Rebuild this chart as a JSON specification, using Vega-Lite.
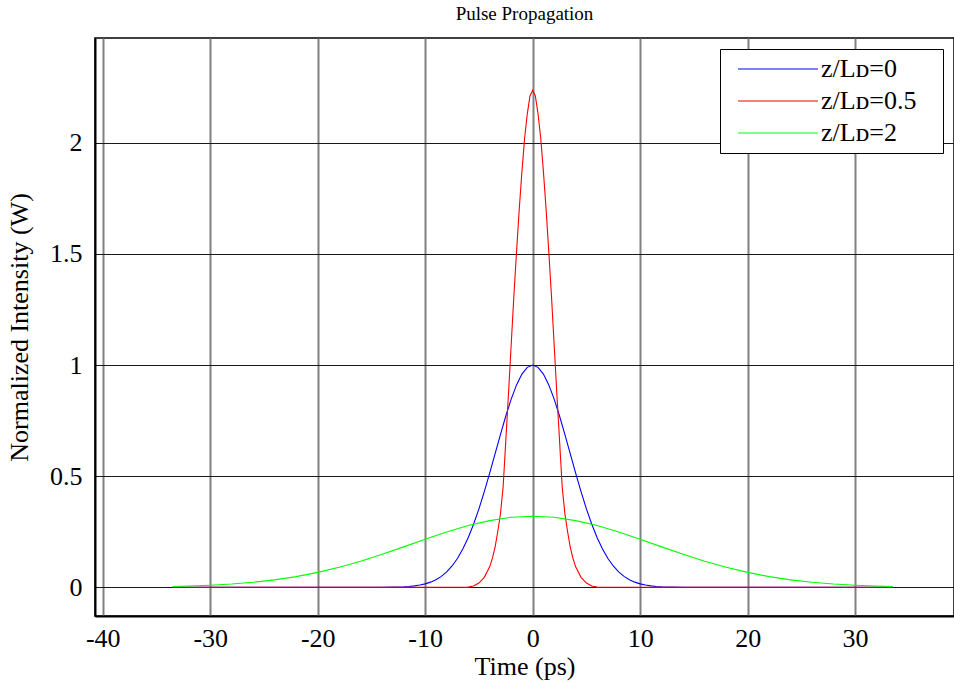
{
  "$schema": "https://vega.github.io/schema/vega-lite/v6.json",
  "width": 859,
  "height": 578,
  "autosize": "none",
  "padding": {"left": 95, "top": 38, "right": 0, "bottom": 68},
  "background": "white",
  "title": {"text": "Pulse Propagation", "font": "Liberation Serif", "fontSize": 19, "fontWeight": "normal", "color": "black", "offset": 14},
  "data": {"values": [
    {"t": -33.5, "I": 0, "s": "z/Lᴅ=0"},
    {"t": -14, "I": 0.0003, "s": "z/Lᴅ=0"},
    {"t": -13, "I": 0.0009, "s": "z/Lᴅ=0"},
    {"t": -12, "I": 0.0025, "s": "z/Lᴅ=0"},
    {"t": -11.5, "I": 0.004, "s": "z/Lᴅ=0"},
    {"t": -11, "I": 0.0065, "s": "z/Lᴅ=0"},
    {"t": -10.5, "I": 0.0101, "s": "z/Lᴅ=0"},
    {"t": -10, "I": 0.0155, "s": "z/Lᴅ=0"},
    {"t": -9.5, "I": 0.0233, "s": "z/Lᴅ=0"},
    {"t": -9, "I": 0.0342, "s": "z/Lᴅ=0"},
    {"t": -8.5, "I": 0.0493, "s": "z/Lᴅ=0"},
    {"t": -8, "I": 0.0695, "s": "z/Lᴅ=0"},
    {"t": -7.5, "I": 0.096, "s": "z/Lᴅ=0"},
    {"t": -7, "I": 0.1298, "s": "z/Lᴅ=0"},
    {"t": -6.5, "I": 0.172, "s": "z/Lᴅ=0"},
    {"t": -6, "I": 0.2231, "s": "z/Lᴅ=0"},
    {"t": -5.5, "I": 0.2835, "s": "z/Lᴅ=0"},
    {"t": -5, "I": 0.3529, "s": "z/Lᴅ=0"},
    {"t": -4.5, "I": 0.4301, "s": "z/Lᴅ=0"},
    {"t": -4, "I": 0.5134, "s": "z/Lᴅ=0"},
    {"t": -3.5, "I": 0.6003, "s": "z/Lᴅ=0"},
    {"t": -3, "I": 0.6873, "s": "z/Lᴅ=0"},
    {"t": -2.5, "I": 0.7707, "s": "z/Lᴅ=0"},
    {"t": -2, "I": 0.8465, "s": "z/Lᴅ=0"},
    {"t": -1.5, "I": 0.9105, "s": "z/Lᴅ=0"},
    {"t": -1, "I": 0.9592, "s": "z/Lᴅ=0"},
    {"t": -0.5, "I": 0.9896, "s": "z/Lᴅ=0"},
    {"t": 0, "I": 1, "s": "z/Lᴅ=0"},
    {"t": 0.5, "I": 0.9896, "s": "z/Lᴅ=0"},
    {"t": 1, "I": 0.9592, "s": "z/Lᴅ=0"},
    {"t": 1.5, "I": 0.9105, "s": "z/Lᴅ=0"},
    {"t": 2, "I": 0.8465, "s": "z/Lᴅ=0"},
    {"t": 2.5, "I": 0.7707, "s": "z/Lᴅ=0"},
    {"t": 3, "I": 0.6873, "s": "z/Lᴅ=0"},
    {"t": 3.5, "I": 0.6003, "s": "z/Lᴅ=0"},
    {"t": 4, "I": 0.5134, "s": "z/Lᴅ=0"},
    {"t": 4.5, "I": 0.4301, "s": "z/Lᴅ=0"},
    {"t": 5, "I": 0.3529, "s": "z/Lᴅ=0"},
    {"t": 5.5, "I": 0.2835, "s": "z/Lᴅ=0"},
    {"t": 6, "I": 0.2231, "s": "z/Lᴅ=0"},
    {"t": 6.5, "I": 0.172, "s": "z/Lᴅ=0"},
    {"t": 7, "I": 0.1298, "s": "z/Lᴅ=0"},
    {"t": 7.5, "I": 0.096, "s": "z/Lᴅ=0"},
    {"t": 8, "I": 0.0695, "s": "z/Lᴅ=0"},
    {"t": 8.5, "I": 0.0493, "s": "z/Lᴅ=0"},
    {"t": 9, "I": 0.0342, "s": "z/Lᴅ=0"},
    {"t": 9.5, "I": 0.0233, "s": "z/Lᴅ=0"},
    {"t": 10, "I": 0.0155, "s": "z/Lᴅ=0"},
    {"t": 10.5, "I": 0.0101, "s": "z/Lᴅ=0"},
    {"t": 11, "I": 0.0065, "s": "z/Lᴅ=0"},
    {"t": 11.5, "I": 0.004, "s": "z/Lᴅ=0"},
    {"t": 12, "I": 0.0025, "s": "z/Lᴅ=0"},
    {"t": 13, "I": 0.0009, "s": "z/Lᴅ=0"},
    {"t": 14, "I": 0.0003, "s": "z/Lᴅ=0"},
    {"t": 33.5, "I": 0, "s": "z/Lᴅ=0"},

    {"t": -33.5, "I": 0, "s": "z/Lᴅ=0.5"},
    {"t": -6.5, "I": 0, "s": "z/Lᴅ=0.5"},
    {"t": -6, "I": 0.001, "s": "z/Lᴅ=0.5"},
    {"t": -5.5, "I": 0.006, "s": "z/Lᴅ=0.5"},
    {"t": -5, "I": 0.019, "s": "z/Lᴅ=0.5"},
    {"t": -4.5, "I": 0.045, "s": "z/Lᴅ=0.5"},
    {"t": -4, "I": 0.092, "s": "z/Lᴅ=0.5"},
    {"t": -3.75, "I": 0.13, "s": "z/Lᴅ=0.5"},
    {"t": -3.5, "I": 0.18, "s": "z/Lᴅ=0.5"},
    {"t": -3.25, "I": 0.25, "s": "z/Lᴅ=0.5"},
    {"t": -3, "I": 0.33, "s": "z/Lᴅ=0.5"},
    {"t": -2.75, "I": 0.45, "s": "z/Lᴅ=0.5"},
    {"t": -2.5, "I": 0.66, "s": "z/Lᴅ=0.5"},
    {"t": -2.25, "I": 0.87, "s": "z/Lᴅ=0.5"},
    {"t": -2, "I": 1.09, "s": "z/Lᴅ=0.5"},
    {"t": -1.75, "I": 1.31, "s": "z/Lᴅ=0.5"},
    {"t": -1.5, "I": 1.51, "s": "z/Lᴅ=0.5"},
    {"t": -1.25, "I": 1.7, "s": "z/Lᴅ=0.5"},
    {"t": -1, "I": 1.87, "s": "z/Lᴅ=0.5"},
    {"t": -0.75, "I": 2.02, "s": "z/Lᴅ=0.5"},
    {"t": -0.5, "I": 2.13, "s": "z/Lᴅ=0.5"},
    {"t": -0.25, "I": 2.21, "s": "z/Lᴅ=0.5"},
    {"t": 0, "I": 2.236, "s": "z/Lᴅ=0.5"},
    {"t": 0.25, "I": 2.21, "s": "z/Lᴅ=0.5"},
    {"t": 0.5, "I": 2.13, "s": "z/Lᴅ=0.5"},
    {"t": 0.75, "I": 2.02, "s": "z/Lᴅ=0.5"},
    {"t": 1, "I": 1.87, "s": "z/Lᴅ=0.5"},
    {"t": 1.25, "I": 1.7, "s": "z/Lᴅ=0.5"},
    {"t": 1.5, "I": 1.51, "s": "z/Lᴅ=0.5"},
    {"t": 1.75, "I": 1.31, "s": "z/Lᴅ=0.5"},
    {"t": 2, "I": 1.09, "s": "z/Lᴅ=0.5"},
    {"t": 2.25, "I": 0.87, "s": "z/Lᴅ=0.5"},
    {"t": 2.5, "I": 0.66, "s": "z/Lᴅ=0.5"},
    {"t": 2.75, "I": 0.45, "s": "z/Lᴅ=0.5"},
    {"t": 3, "I": 0.33, "s": "z/Lᴅ=0.5"},
    {"t": 3.25, "I": 0.25, "s": "z/Lᴅ=0.5"},
    {"t": 3.5, "I": 0.18, "s": "z/Lᴅ=0.5"},
    {"t": 3.75, "I": 0.13, "s": "z/Lᴅ=0.5"},
    {"t": 4, "I": 0.092, "s": "z/Lᴅ=0.5"},
    {"t": 4.5, "I": 0.045, "s": "z/Lᴅ=0.5"},
    {"t": 5, "I": 0.019, "s": "z/Lᴅ=0.5"},
    {"t": 5.5, "I": 0.006, "s": "z/Lᴅ=0.5"},
    {"t": 6, "I": 0.001, "s": "z/Lᴅ=0.5"},
    {"t": 6.5, "I": 0, "s": "z/Lᴅ=0.5"},
    {"t": 33.5, "I": 0, "s": "z/Lᴅ=0.5"},

    {"t": -33.5, "I": 0.004, "s": "z/Lᴅ=2"},
    {"t": -32, "I": 0.006, "s": "z/Lᴅ=2"},
    {"t": -30, "I": 0.0095, "s": "z/Lᴅ=2"},
    {"t": -28, "I": 0.015, "s": "z/Lᴅ=2"},
    {"t": -26, "I": 0.0228, "s": "z/Lᴅ=2"},
    {"t": -24, "I": 0.0337, "s": "z/Lᴅ=2"},
    {"t": -22, "I": 0.0483, "s": "z/Lᴅ=2"},
    {"t": -20, "I": 0.0671, "s": "z/Lᴅ=2"},
    {"t": -18, "I": 0.0903, "s": "z/Lᴅ=2"},
    {"t": -16, "I": 0.1177, "s": "z/Lᴅ=2"},
    {"t": -14, "I": 0.149, "s": "z/Lᴅ=2"},
    {"t": -12, "I": 0.182, "s": "z/Lᴅ=2"},
    {"t": -10, "I": 0.2166, "s": "z/Lᴅ=2"},
    {"t": -8, "I": 0.249, "s": "z/Lᴅ=2"},
    {"t": -6, "I": 0.278, "s": "z/Lᴅ=2"},
    {"t": -4, "I": 0.3, "s": "z/Lᴅ=2"},
    {"t": -2, "I": 0.315, "s": "z/Lᴅ=2"},
    {"t": 0, "I": 0.32, "s": "z/Lᴅ=2"},
    {"t": 2, "I": 0.315, "s": "z/Lᴅ=2"},
    {"t": 4, "I": 0.3, "s": "z/Lᴅ=2"},
    {"t": 6, "I": 0.278, "s": "z/Lᴅ=2"},
    {"t": 8, "I": 0.249, "s": "z/Lᴅ=2"},
    {"t": 10, "I": 0.2166, "s": "z/Lᴅ=2"},
    {"t": 12, "I": 0.182, "s": "z/Lᴅ=2"},
    {"t": 14, "I": 0.149, "s": "z/Lᴅ=2"},
    {"t": 16, "I": 0.1177, "s": "z/Lᴅ=2"},
    {"t": 18, "I": 0.0903, "s": "z/Lᴅ=2"},
    {"t": 20, "I": 0.0671, "s": "z/Lᴅ=2"},
    {"t": 22, "I": 0.0483, "s": "z/Lᴅ=2"},
    {"t": 24, "I": 0.0337, "s": "z/Lᴅ=2"},
    {"t": 26, "I": 0.0228, "s": "z/Lᴅ=2"},
    {"t": 28, "I": 0.015, "s": "z/Lᴅ=2"},
    {"t": 30, "I": 0.0095, "s": "z/Lᴅ=2"},
    {"t": 32, "I": 0.006, "s": "z/Lᴅ=2"},
    {"t": 33.5, "I": 0.004, "s": "z/Lᴅ=2"}
  ]},
  "mark": {"type": "line", "strokeWidth": 1.1, "interpolate": "linear", "clip": true},
  "encoding": {
    "x": {
      "field": "t", "type": "quantitative",
      "scale": {"domain": [-40.72, 39.2], "nice": false, "zero": false},
      "axis": {
        "title": "Time (ps)",
        "values": [-40, -30, -20, -10, 0, 10, 20, 30],
        "labelExpr": "'' + datum.value",
        "grid": true, "gridColor": "#808080", "gridWidth": 2, "gridOpacity": 1,
        "ticks": false,
        "domainColor": "black", "domainWidth": 2,
        "labelPadding": 9, "titlePadding": 2
      }
    },
    "y": {
      "field": "I", "type": "quantitative",
      "scale": {"domain": [-0.129, 2.471], "nice": false, "zero": false},
      "axis": {
        "title": "Normalized Intensity (W)",
        "values": [0, 0.5, 1, 1.5, 2],
        "labelExpr": "'' + datum.value",
        "grid": true, "gridColor": "#1a1a1a", "gridWidth": 1, "gridOpacity": 1,
        "ticks": false,
        "domainColor": "black", "domainWidth": 2,
        "labelPadding": 13, "titlePadding": 17
      }
    },
    "color": {
      "field": "s", "type": "nominal",
      "scale": {"domain": ["z/Lᴅ=0", "z/Lᴅ=0.5", "z/Lᴅ=2"], "range": ["#0000ff", "#ff0000", "#00ff00"]},
      "legend": {
        "title": null,
        "orient": "top-right",
        "offset": 11,
        "padding": 7,
        "strokeColor": "black",
        "fillColor": "white",
        "symbolType": "M-4,0H4",
        "symbolSize": 400,
        "symbolStrokeWidth": 1.2,
        "symbolOffset": 38,
        "labelOffset": 30,
        "labelFont": "Liberation Serif",
        "labelFontSize": 26,
        "labelColor": "black",
        "labelExpr": "datum.label + '\u2800'",
        "rowPadding": 6,
        "labelLimit": 400
      }
    }
  },
  "config": {
    "view": {"stroke": "black", "strokeWidth": 1.5},
    "axis": {
      "labelFont": "Liberation Serif", "labelFontSize": 26, "labelColor": "black",
      "titleFont": "Liberation Serif", "titleFontSize": 26, "titleColor": "black", "titleFontWeight": "normal"
    }
  }
}
